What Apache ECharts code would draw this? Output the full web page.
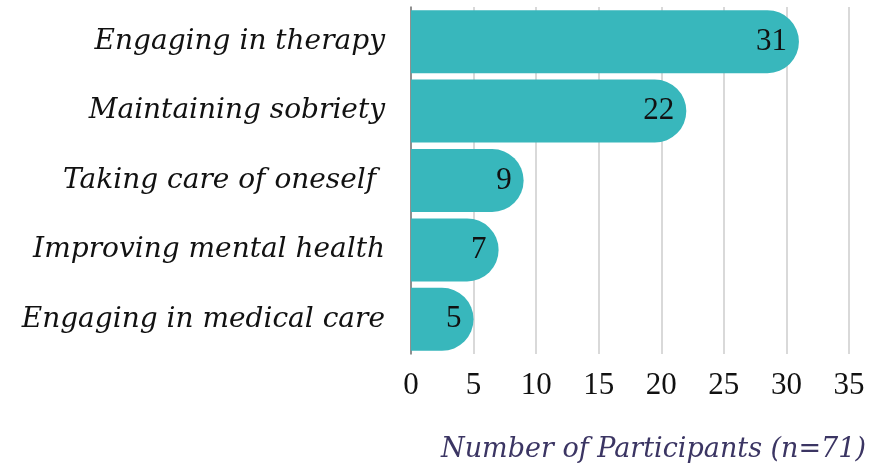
<!DOCTYPE html>
<html>
<head>
    <meta charset="utf-8">
    <title>Participants</title>
    <script src="https://cdn.jsdelivr.net/npm/echarts@6/dist/echarts.min.js"></script>
</head>
<body style="margin:0">
    <div id="main" style="width: 886px;height:468px;"></div>
    <script type="text/javascript">
    var categories = ['Engaging in medical care', 'Improving mental health', 'Taking care of oneself ', 'Maintaining sobriety', 'Engaging in therapy'];
    var values = [5, 7, 9, 22, 31];
    var xTicks = [0, 5, 10, 15, 20, 25, 30, 35];

    var serif = '"DejaVu Serif", "Liberation Serif", serif';
    var numSerif = '"Liberation Serif", "DejaVu Serif", serif';
    var myChart = echarts.init(document.getElementById('main'));

    var option = {
        backgroundColor: '#ffffff',
        title: {
            text: 'Number of Participants (n=71)',
            right: 15,
            bottom: 0,
            textStyle: {
                fontFamily: serif,
                fontStyle: 'italic',
                fontWeight: 'normal',
                fontSize: 27,
                color: '#3b3563'
            }
        },
        grid: {
            left: 411,
            right: 37,
            top: 7,
            height: 347
        },
        xAxis: {
            type: 'value',
            min: xTicks[0],
            max: xTicks[xTicks.length - 1],
            interval: 5,
            axisLine: { show: false },
            axisTick: { show: false },
            axisLabel: {
                fontFamily: numSerif,
                fontSize: 31,
                color: '#111',
                margin: 16
            },
            splitLine: {
                lineStyle: { color: '#cccccc', width: 1.5 }
            }
        },
        yAxis: {
            type: 'category',
            data: categories,
            axisLine: { lineStyle: { color: '#777', width: 1.5 } },
            axisTick: { show: false },
            axisLabel: {
                fontFamily: serif,
                fontStyle: 'italic',
                fontSize: 28,
                color: '#111',
                margin: 26
            }
        },
        series: [{
            type: 'bar',
            data: values,
            barWidth: 63,
            itemStyle: {
                color: '#38b7bc',
                borderRadius: [0, 31.5, 31.5, 0]
            },
            label: {
                show: true,
                position: 'insideRight',
                distance: 12,
                fontFamily: numSerif,
                fontSize: 31,
                color: '#111'
            }
        }]
    };
    myChart.setOption(option);
    </script>
</body>
</html>
